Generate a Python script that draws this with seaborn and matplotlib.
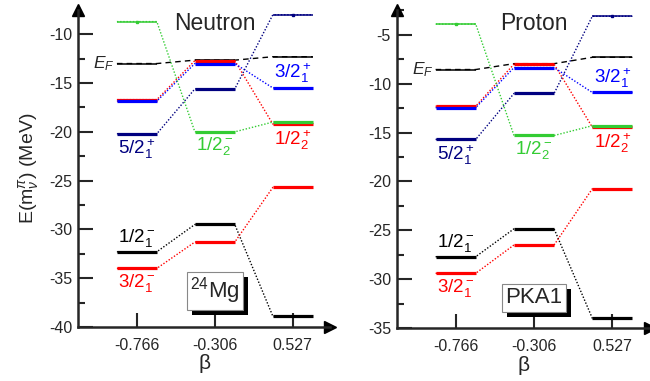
import numpy as np
import pandas as pd
import seaborn as sns
import matplotlib.pyplot as plt
from matplotlib import transforms
from matplotlib.patches import Rectangle

# deformations (categories on the x axis)
betas = ['-0.766', '-0.306', '0.527']

# single-particle levels (MeV), one value per beta
n_fermi = [-13.0, -12.65, -12.3]
n_half_minus_2 = [-8.7, -20.0, -19.0]
n_half_plus_2 = [-16.7, -12.7, -19.2]
n_three_half_plus_1 = [-16.85, -13.0, -15.5]
n_five_half_plus_1 = [-20.2, -15.6, -8.0]
n_half_minus_1 = [-32.3, -29.5, -38.9]
n_three_half_minus_1 = [-34.0, -31.3, -25.7]

p_fermi = [-8.55, -7.95, -7.3]
p_half_minus_2 = [-3.9, -15.3, -14.3]
p_half_plus_2 = [-12.3, -8.0, -14.45]
p_three_half_plus_1 = [-12.45, -8.35, -10.9]
p_five_half_plus_1 = [-15.7, -11.0, -3.1]
p_half_minus_1 = [-27.7, -24.85, -34.0]
p_three_half_minus_1 = [-29.4, -26.5, -20.75]

colors = {'EF': 'black', '1/2+2': '#ff0000', '3/2+1': '#0000ff', '5/2+1': '#000080',
          '1/2-2': '#33cc33', '1/2-1': 'black', '3/2-1': '#ff0000'}

sns.set_style('ticks')
plt.rcParams['font.family'] = ['Liberation Sans', 'DejaVu Sans']
plt.rcParams['mathtext.fontset'] = 'custom'
plt.rcParams['mathtext.rm'] = 'Liberation Sans'
plt.rcParams['mathtext.it'] = 'Liberation Sans:italic'
plt.rcParams['mathtext.sf'] = 'Liberation Sans'
plt.rcParams['axes.unicode_minus'] = False

fig = plt.figure(figsize=(6.5, 3.81), dpi=100)
ax_n = fig.add_axes([0.12, 0.142, 0.388, 0.832])
ax_p = fig.add_axes([0.61, 0.139, 0.39, 0.835])

hw = 0.256  # half width of a level bar in category units


def draw_panel(ax, levels, thin):
    # levels: dict state -> 3 energies, drawn in dict order
    for name, vals in levels.items():
        xs, ys = [], []
        for i, e in enumerate(vals):
            xs += [i - hw, i + hw]
            ys += [e, e]
        df = pd.DataFrame({'x': xs, 'E': ys})
        ls = (0, (4, 3)) if name == 'EF' else (0, (1, 1.3))
        sns.lineplot(data=df, x='x', y='E', color=colors[name], estimator=None, sort=False,
                     linestyle=ls, linewidth=1, ax=ax, legend=False)
        for i, e in enumerate(vals):
            is_thin = name == 'EF' or (name, i) in thin
            ax.hlines(e, i - hw, i + hw, color=colors[name], lw=1.1 if is_thin else 2.3,
                      zorder=3 if is_thin else 4)
            if (name, i) in thin:
                ax.plot(i, e, marker='s', ms=2, color=colors[name], zorder=5)


def style_axes(ax, ylim, major):
    ax.set_xlim(-0.755, 2.48)
    ax.set_ylim(*ylim)
    ax.set_xticks(range(len(betas)))
    ax.set_xticklabels(betas)
    ax.set_yticks(np.arange(ylim[0], ylim[1], major))
    ax.set_yticks(np.arange(ylim[0], ylim[1], major / 2), minor=True)
    sns.despine(ax=ax)
    for s in ['left', 'bottom']:
        ax.spines[s].set_linewidth(1.8)
    ax.tick_params(axis='y', which='major', direction='in', length=11, width=1.5, labelsize=11.5, pad=4)
    ax.tick_params(axis='y', which='minor', direction='in', length=5, width=1.5)
    ax.tick_params(axis='x', which='major', direction='in', length=10, width=1.5, labelsize=11.5, pad=8)
    ax.plot(0, 1, marker='^', ms=9, color='black', transform=ax.transAxes, clip_on=False)
    ax.plot(1, 0, marker='>', ms=9, color='black', transform=ax.transAxes, clip_on=False)
    ax.set_xlabel('β', fontsize=15, labelpad=1)
    ax.grid(False)


boxes = []


def boxed(ax, x, y, s):
    t = ax.text(x, y, s, fontsize=16, ha='center', va='center', zorder=7,
                bbox=dict(boxstyle='square,pad=0.15', fc='white', ec='#888888', lw=0.8))
    boxes.append((ax, t))


neutron = {'EF': n_fermi, '1/2+2': n_half_plus_2, '3/2+1': n_three_half_plus_1,
           '5/2+1': n_five_half_plus_1, '1/2-2': n_half_minus_2,
           '1/2-1': n_half_minus_1, '3/2-1': n_three_half_minus_1}
proton = {'EF': p_fermi, '1/2+2': p_half_plus_2, '3/2+1': p_three_half_plus_1,
          '5/2+1': p_five_half_plus_1, '1/2-2': p_half_minus_2,
          '1/2-1': p_half_minus_1, '3/2-1': p_three_half_minus_1}

for ax, lev, ylim, title in [(ax_n, neutron, (-40, -7.5), 'Neutron'),
                             (ax_p, proton, (-35, -2.45), 'Proton')]:
    draw_panel(ax, lev, thin=[('1/2-2', 0), ('5/2+1', 2)])
    style_axes(ax, ylim, 5)
    ax.set_ylabel('')
    fs = 13.5
    ax.text(1, ylim[1] - 1.4, title, fontsize=16.5, ha='center', va='center')
    ax.text(-hw - 0.03, lev['EF'][0], '$E_F$', fontsize=12.5, ha='right', va='center')
    ax.text(0, lev['5/2+1'][0] - 0.35, '5/2$_1^+$', color=colors['5/2+1'], fontsize=fs, ha='center', va='top')
    ax.text(1, lev['1/2-2'][1] - 0.35, '1/2$_2^-$', color=colors['1/2-2'], fontsize=fs, ha='center', va='top')
    ax.text(2, lev['3/2+1'][2] + 0.25, '3/2$_1^+$', color=colors['3/2+1'], fontsize=fs, ha='center', va='bottom')
    ax.text(2, lev['1/2+2'][2] - 0.45, '1/2$_2^+$', color=colors['1/2+2'], fontsize=fs, ha='center', va='top')
    ax.text(0, lev['1/2-1'][0] + 0.25, '1/2$_1^-$', color='black', fontsize=fs, ha='center', va='bottom')
    ax.text(0, lev['3/2-1'][0] - 0.35, '3/2$_1^-$', color=colors['3/2-1'], fontsize=fs, ha='center', va='top')

boxed(ax_n, 1, -36.3, '$^{24}$Mg')
boxed(ax_p, 1, -31.9, 'PKA1')

ax_n.set_ylabel(r'E(m$_\nu^\pi$) (MeV)', fontsize=14, labelpad=6)

# drop shadows behind the two labels
fig.canvas.draw()
for ax, t in boxes:
    bb = t.get_bbox_patch().get_window_extent()
    ax.add_patch(Rectangle((bb.x0 + 5, bb.y0 - 5), bb.width, bb.height, fc='black', ec='none',
                           transform=transforms.IdentityTransform(), zorder=6, clip_on=False))

fig.savefig('out.png', dpi=100)
